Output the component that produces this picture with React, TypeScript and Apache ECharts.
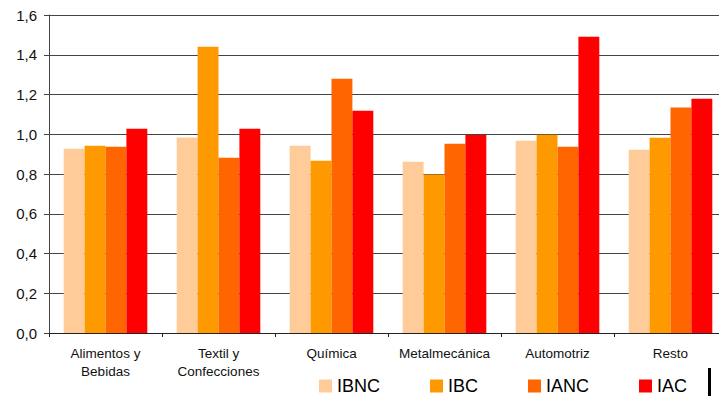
import React, { useEffect, useRef } from "react";
import * as echarts from "echarts";

const categories = [
  "Alimentos y\nBebidas",
  "Textil y\nConfecciones",
  "Química",
  "Metalmecánica",
  "Automotriz",
  "Resto",
];
const seriesNames = ["IBNC", "IBC", "IANC", "IAC"];
const ibnc = [0.927, 0.984, 0.942, 0.862, 0.967, 0.922];
const ibc = [0.942, 1.44, 0.867, 0.798, 0.998, 0.983];
const ianc = [0.937, 0.882, 1.279, 0.952, 0.937, 1.134];
const iac = [1.028, 1.028, 1.118, 0.996, 1.49, 1.179];
const colors = ["#FFCC99", "#FF9900", "#FF6600", "#FF0000"];
const yTicks = [0, 0.2, 0.4, 0.6, 0.8, 1.0, 1.2, 1.4, 1.6];

export default function App() {
  const ref = useRef<HTMLDivElement>(null);
  useEffect(() => {
    if (!ref.current) return;
    const chart = echarts.init(ref.current, null, { renderer: "svg" });
    const values = [ibnc, ibc, ianc, iac];
    const font = "'Liberation Sans', Arial, sans-serif";
    chart.setOption({
      animation: false,
      backgroundColor: "#ffffff",
      textStyle: { fontFamily: font },
      grid: {
        left: 49,
        right: -8,
        top: 15,
        bottom: 63,
        containLabel: false,
        outerBoundsMode: "none",
      },
      legend: {
        left: 314,
        top: 372,
        itemGap: 50,
        itemWidth: 13,
        itemHeight: 13,
        icon: "rect",
        textStyle: { fontSize: 18, color: "#000", fontFamily: font },
        data: seriesNames,
      },
      xAxis: {
        type: "category",
        data: categories,
        axisLine: { lineStyle: { color: "#222", width: 1 } },
        axisTick: { show: true, length: 4, alignWithLabel: false, lineStyle: { color: "#222" } },
        axisLabel: {
          interval: 0,
          margin: 11,
          fontSize: 13.5,
          lineHeight: 18,
          color: "#111",
          fontFamily: font,
        },
        splitLine: { show: false },
      },
      yAxis: {
        type: "value",
        min: yTicks[0],
        max: yTicks[yTicks.length - 1],
        interval: 0.2,
        axisLine: { show: true, lineStyle: { color: "#444", width: 1 } },
        axisTick: { show: true, length: 5, lineStyle: { color: "#444" } },
        axisLabel: {
          margin: 12,
          fontSize: 15,
          color: "#111",
          fontFamily: font,
          formatter: (v: number) => v.toFixed(1).replace(".", ","),
        },
        splitLine: { show: true, lineStyle: { color: "#444", width: 1 } },
      },
      series: seriesNames.map((name, i) => ({
        name,
        type: "bar",
        data: values[i],
        itemStyle: { color: colors[i] },
        barGap: "0%",
        barCategoryGap: "26%",
      })),
      graphic: [
        {
          type: "rect",
          shape: { x: 708, y: 368, width: 3, height: 28 },
          style: { fill: "#000" },
        },
      ],
    });
    return () => chart.dispose();
  }, []);
  return (
    <div
      ref={ref}
      style={{ position: "absolute", left: 0, top: 0, width: 719, height: 396 }}
    />
  );
}
